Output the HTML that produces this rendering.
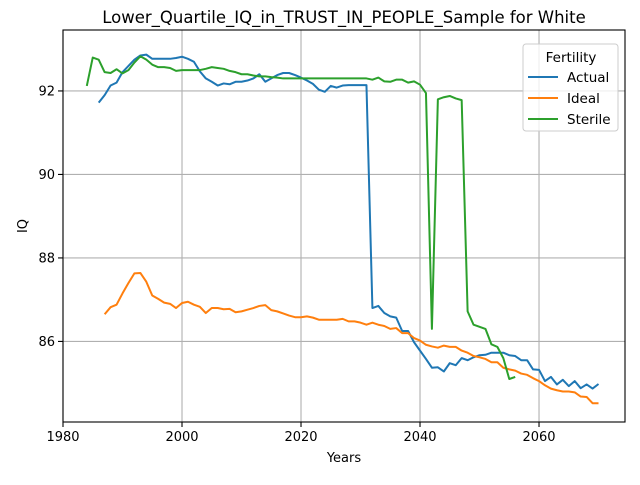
<!DOCTYPE html>
<html><head><meta charset="utf-8"><style>
body{margin:0;background:#fff;font-family:"Liberation Sans","DejaVu Sans",sans-serif}
svg text{font-family:"DejaVu Sans","Liberation Sans",sans-serif}
</style></head><body>
<svg id="chart" width="640" height="480"></svg>
<script>
const actualYears=[];for(let y=1986;y<=2070;y++)actualYears.push(y);
const actualValues=[91.72,91.9,92.13,92.2,92.45,92.6,92.75,92.85,92.87,92.77,92.77,92.77,92.77,92.79,92.82,92.77,92.7,92.47,92.3,92.22,92.13,92.18,92.16,92.22,92.22,92.25,92.3,92.4,92.22,92.3,92.38,92.43,92.43,92.38,92.32,92.25,92.17,92.03,91.98,92.12,92.08,92.13,92.14,92.14,92.14,92.14,86.8,86.85,86.68,86.6,86.57,86.25,86.25,85.98,85.78,85.58,85.37,85.38,85.28,85.48,85.43,85.6,85.55,85.62,85.67,85.68,85.73,85.73,85.73,85.67,85.65,85.55,85.55,85.33,85.32,85.05,85.15,84.97,85.08,84.93,85.05,84.88,84.97,84.87,84.98];
const idealYears=[];for(let y=1987;y<=2070;y++)idealYears.push(y);
const idealValues=[86.65,86.82,86.88,87.15,87.4,87.63,87.64,87.43,87.1,87.02,86.93,86.9,86.8,86.92,86.95,86.88,86.83,86.68,86.8,86.8,86.77,86.78,86.7,86.72,86.76,86.8,86.85,86.87,86.75,86.72,86.67,86.62,86.58,86.58,86.6,86.57,86.52,86.52,86.52,86.52,86.54,86.48,86.48,86.45,86.4,86.45,86.4,86.37,86.3,86.32,86.2,86.2,86.08,86.02,85.92,85.88,85.85,85.9,85.87,85.87,85.78,85.73,85.65,85.62,85.58,85.5,85.5,85.37,85.33,85.3,85.23,85.2,85.12,85.05,84.95,84.87,84.83,84.8,84.8,84.78,84.68,84.67,84.52,84.52];
const sterileYears=[];for(let y=1984;y<=2056;y++)sterileYears.push(y);
const sterileValues=[92.12,92.8,92.75,92.45,92.43,92.52,92.42,92.5,92.68,92.83,92.75,92.63,92.57,92.57,92.55,92.48,92.5,92.5,92.5,92.5,92.53,92.57,92.55,92.53,92.48,92.45,92.4,92.4,92.37,92.35,92.35,92.33,92.32,92.3,92.3,92.3,92.3,92.3,92.3,92.3,92.3,92.3,92.3,92.3,92.3,92.3,92.3,92.3,92.27,92.32,92.23,92.22,92.27,92.27,92.2,92.23,92.15,91.95,86.3,91.8,91.85,91.88,91.82,91.78,86.72,86.4,86.35,86.3,85.93,85.87,85.6,85.1,85.15];
const xTicks=[1980,2000,2020,2040,2060];
const yTicks=[86,88,90,92];
const seriesNames=["Actual","Ideal","Sterile"];
const colors=["#1f77b4","#ff7f0e","#2ca02c"];

const L=63,R=625,T=30,B=422;
const xMin=1980,xMax=2074.45,yMin=84.07,yMax=93.46;
const xs=v=>L+(v-xMin)/(xMax-xMin)*(R-L);
const ys=v=>B-(v-yMin)/(yMax-yMin)*(B-T);
const svg=document.getElementById('chart');
const NS='http://www.w3.org/2000/svg';
function mk(tag,attrs,parent){const e=document.createElementNS(NS,tag);for(const k in attrs)e.setAttribute(k,attrs[k]);(parent||svg).appendChild(e);return e;}

const grid=mk('g',{});


xTicks.forEach(t=>{
  const l=mk('line',{x1:xs(t),x2:xs(t),y1:T,y2:B,stroke:'#b0b0b0','stroke-width':1.1},grid);
  
  
  const tk=mk('line',{x1:xs(t),x2:xs(t),y1:B,y2:B+5,stroke:'#000','stroke-width':1.1});
  
  
  const tx=mk('text',{x:xs(t),y:B+19,'text-anchor':'middle','font-size':13});
  tx.textContent=t;
  
  
});
yTicks.forEach(t=>{
  const l=mk('line',{x1:L,x2:R,y1:ys(t),y2:ys(t),stroke:'#b0b0b0','stroke-width':1.1},grid);
  
  
  const tk=mk('line',{x1:L-5,x2:L,y1:ys(t),y2:ys(t),stroke:'#000','stroke-width':1.1});
  
  
  const tx=mk('text',{x:L-8,y:ys(t)+4.5,'text-anchor':'end','font-size':13});
  tx.textContent=t;
  
  
});

const data=[[actualYears,actualValues],[idealYears,idealValues],[sterileYears,sterileValues]];
data.forEach((d,i)=>{
  const pts=d[0].map((yr,j)=>xs(yr).toFixed(2)+','+ys(d[1][j]).toFixed(2)).join(' ');
  const p=mk('polyline',{points:pts,fill:'none',stroke:colors[i],'stroke-width':2,'stroke-linejoin':'round'});
  
  
});

const frame=mk('rect',{x:L,y:T,width:R-L,height:B-T,fill:'none',stroke:'#000','stroke-width':1.1});



const title=mk('text',{x:(L+R)/2,y:T-7,'text-anchor':'middle','font-size':16.5});
title.textContent='Lower_Quartile_IQ_in_TRUST_IN_PEOPLE_Sample for White';


const xl=mk('text',{x:(L+R)/2,y:462,'text-anchor':'middle','font-size':13});
xl.textContent='Years';


const yl=mk('text',{x:0,y:0,'text-anchor':'middle','font-size':13,transform:'translate(27,'+((T+B)/2)+') rotate(-90)'});
yl.textContent='IQ';



const lg=mk('g',{});


mk('rect',{x:523,y:44,width:95,height:87,rx:3,fill:'#fff','fill-opacity':0.8,stroke:'#ccc','stroke-width':1},lg);
const lt=mk('text',{x:571,y:62,'text-anchor':'middle','font-size':13.5},lg);
lt.textContent='Fertility';


seriesNames.forEach((n,i)=>{
  const y=77+i*21;
  const ln=mk('line',{x1:528,x2:558,y1:y,y2:y,stroke:colors[i],'stroke-width':2},lg);
  
  
  const t=mk('text',{x:567,y:y+5,'font-size':13.5},lg);
  t.textContent=n;
  
  
});
</script>
</body></html>
